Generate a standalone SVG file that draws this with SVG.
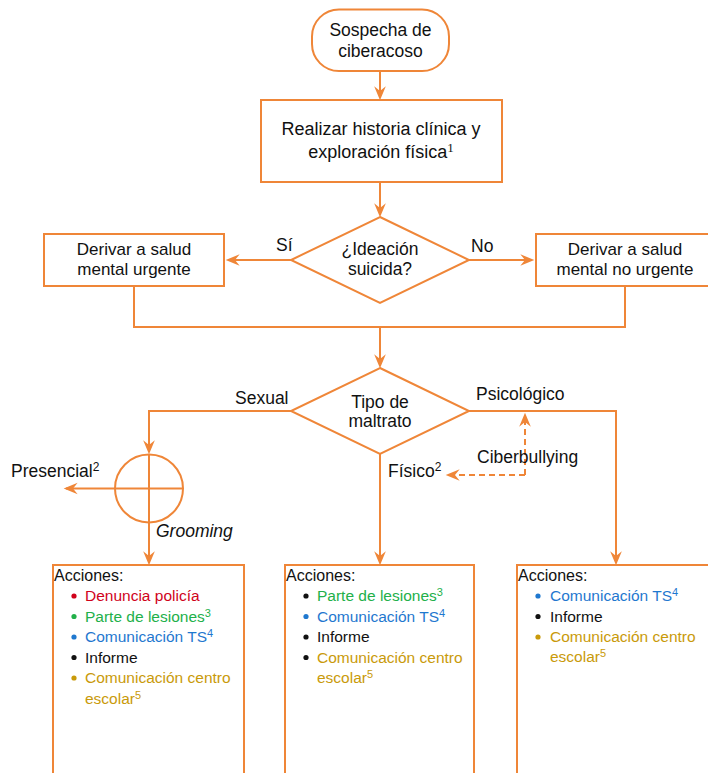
<svg xmlns="http://www.w3.org/2000/svg" width="708" height="773" viewBox="0 0 708 773">
<defs>
<marker id="ah" markerUnits="userSpaceOnUse" markerWidth="14" markerHeight="12" refX="10" refY="5" orient="auto" viewBox="0 0 12 10" overflow="visible">
<path d="M0,0 L12,5 L0,10 L4,5 z" fill="#ef8638"/>
</marker>
</defs>
<style>
.b{fill:#fff;stroke:#ef8638;stroke-width:2}
.c{fill:none;stroke:#ef8638;stroke-width:2}
.d{fill:none;stroke:#ef8638;stroke-width:2;stroke-dasharray:6 4}
text{font-family:"Liberation Sans",Arial,sans-serif;fill:#111}
.t{font-size:17.5px;text-anchor:middle}
.l{font-size:17.5px}
.a{font-size:16px}
.i{font-size:15.5px}
.r{fill:#d0021b}
.g{fill:#22b04a}
.u{fill:#1f78cf}
.k{fill:#111}
.y{fill:#c99a0a}
.s{font-size:12px}
.sl{font-size:11px}
</style>
<g id="connectors">
<path class="c" d="M380,71 V98" marker-end="url(#ah)"/>
<path class="c" d="M380,182 V215" marker-end="url(#ah)"/>
<path class="c" d="M291,260 H228" marker-end="url(#ah)"/>
<path class="c" d="M469,260 H532" marker-end="url(#ah)"/>
<path class="c" d="M134,286 V327 H625 V286"/>
<path class="c" d="M380,327 V366" marker-end="url(#ah)"/>
<path class="c" d="M291,411 H149 V452" marker-end="url(#ah)"/>
<path class="c" d="M149,454 V563" marker-end="url(#ah)"/>
<path class="c" d="M183,488.5 H66" marker-end="url(#ah)"/>
<path class="c" d="M380,454 V563" marker-end="url(#ah)"/>
<path class="c" d="M469,411 H616 V563" marker-end="url(#ah)"/>
<path class="d" d="M525,475 V415" marker-end="url(#ah)"/>
<path class="d" d="M525,475 H448" marker-end="url(#ah)"/>
</g>
<g id="start">
<rect class="b" x="312" y="9.5" width="137" height="61.5" rx="27"/>
<text class="t" x="380.5" y="36">Sospecha de</text>
<text class="t" x="380.5" y="57">ciberacoso</text>
</g>
<g id="historia">
<rect class="b" x="261" y="100" width="241" height="82"/>
<text class="t" x="381" y="135" style="font-size:18px">Realizar historia clínica y</text>
<text class="t" x="381" y="158" style="font-size:18px">exploración física<tspan font-size="13" dy="-6" style="font-family:'Liberation Serif',serif">1</tspan></text>
</g>
<g id="ideacion">
<path class="b" d="M380,217 L469,260 L380,303 L291,260 z"/>
<text class="t" x="380" y="255">¿Ideación</text>
<text class="t" x="380" y="275">suicida?</text>
</g>
<g id="urgente">
<rect class="b" x="44" y="234" width="180" height="52"/>
<text class="t" x="134" y="255" style="font-size:17px">Derivar a salud</text>
<text class="t" x="134" y="275" style="font-size:17px">mental urgente</text>
</g>
<g id="nourgente">
<rect class="b" x="536" y="234" width="180" height="52"/>
<text class="t" x="625" y="255" style="font-size:17px">Derivar a salud</text>
<text class="t" x="625" y="275" style="font-size:17px">mental no urgente</text>
</g>
<g id="tipo">
<path class="b" d="M380,368 L469,411 L380,454 L291,411 z"/>
<text class="t" x="380" y="408">Tipo de</text>
<text class="t" x="380" y="427">maltrato</text>
</g>
<g id="cruce">
<circle class="c" cx="149" cy="488.5" r="34"/>
</g>
<g id="labels">
<text class="l" x="276" y="251">Sí</text>
<text class="l" x="471" y="251.5">No</text>
<text class="l" x="235" y="404">Sexual</text>
<text class="l" x="476" y="400">Psicológico</text>
<text class="l" x="477" y="463">Ciberbullying</text>
<text class="l" x="388" y="476.5">Físico<tspan class="s" dy="-6">2</tspan></text>
<text class="l" x="11" y="476.5">Presencial<tspan class="s" dy="-6">2</tspan></text>
<text class="l" x="156" y="537" font-style="italic">Grooming</text>
</g>
<g id="acciones1">
<rect class="b" x="53" y="565" width="191" height="240"/>
<text class="a" x="54" y="581">Acciones:</text>
<circle class="r" cx="74" cy="596" r="2.6"/><text class="i r" x="85" y="601">Denuncia policía</text>
<circle class="g" cx="74" cy="616.5" r="2.6"/><text class="i g" x="85" y="621.5">Parte de lesiones<tspan class="sl" dy="-5">3</tspan></text>
<circle class="u" cx="74" cy="637" r="2.6"/><text class="i u" x="85" y="642">Comunicación TS<tspan class="sl" dy="-5">4</tspan></text>
<circle class="k" cx="74" cy="657.5" r="2.6"/><text class="i k" x="85" y="662.5">Informe</text>
<circle class="y" cx="74" cy="678" r="2.6"/><text class="i y" x="85" y="683">Comunicación centro</text>
<text class="i y" x="85" y="703.5">escolar<tspan class="sl" dy="-5">5</tspan></text>
</g>
<g id="acciones2">
<rect class="b" x="285" y="565" width="189" height="240"/>
<text class="a" x="286" y="581">Acciones:</text>
<circle class="k" cx="306" cy="596" r="2.6"/><text class="i g" x="317" y="601">Parte de lesiones<tspan class="sl" dy="-5">3</tspan></text>
<circle class="u" cx="306" cy="616.5" r="2.6"/><text class="i u" x="317" y="621.5">Comunicación TS<tspan class="sl" dy="-5">4</tspan></text>
<circle class="k" cx="306" cy="637" r="2.6"/><text class="i k" x="317" y="642">Informe</text>
<circle class="k" cx="306" cy="657.5" r="2.6"/><text class="i y" x="317" y="662.5">Comunicación centro</text>
<text class="i y" x="317" y="683">escolar<tspan class="sl" dy="-5">5</tspan></text>
</g>
<g id="acciones3">
<rect class="b" x="517" y="565" width="200" height="240"/>
<text class="a" x="518" y="581">Acciones:</text>
<circle class="u" cx="538" cy="596" r="2.6"/><text class="i u" x="550" y="601">Comunicación TS<tspan class="sl" dy="-5">4</tspan></text>
<circle class="k" cx="538" cy="616.5" r="2.6"/><text class="i k" x="550" y="621.5">Informe</text>
<circle class="y" cx="538" cy="637" r="2.6"/><text class="i y" x="550" y="642">Comunicación centro</text>
<text class="i y" x="550" y="662">escolar<tspan class="sl" dy="-5">5</tspan></text>
</g>
</svg>
